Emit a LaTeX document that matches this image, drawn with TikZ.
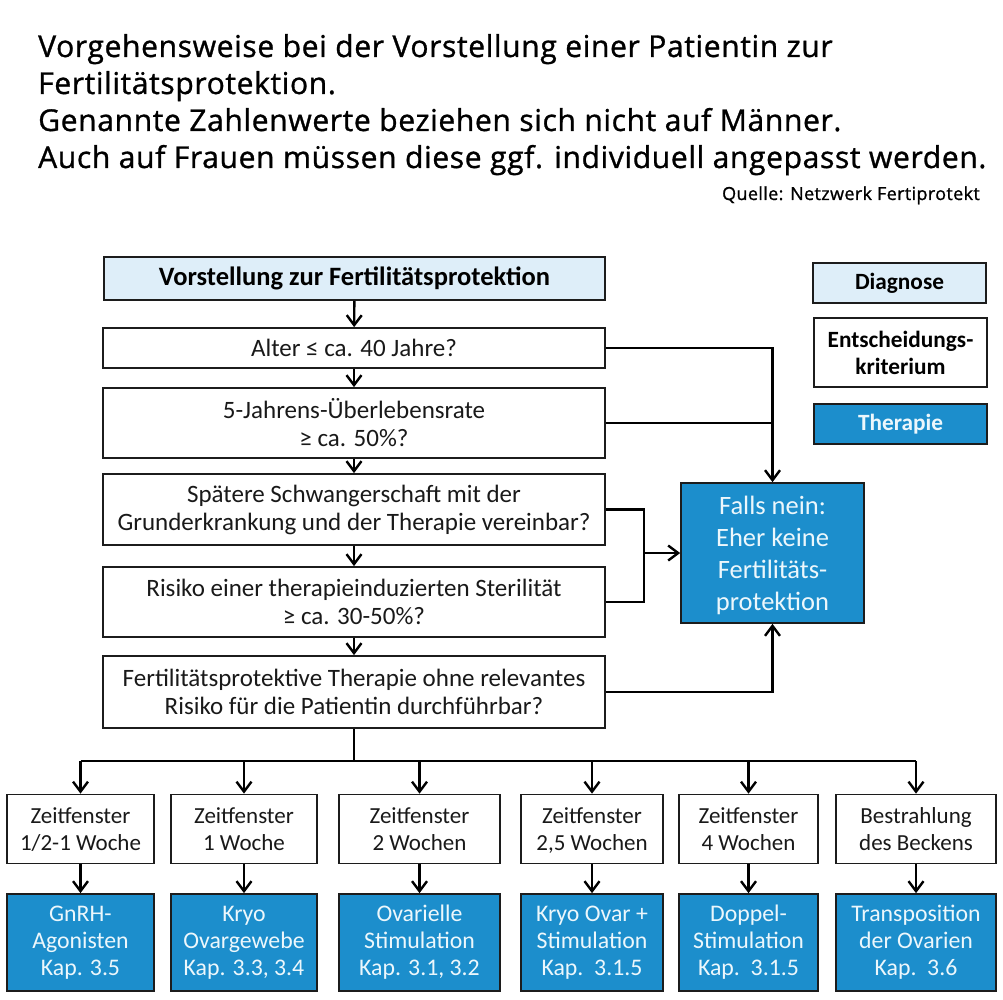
\documentclass[tikz,border=0pt]{standalone}
\usepackage{fontspec}
\setmainfont{Carlito}
\newfontfamily\headfont[FakeBold=1,LetterSpace=2]{Open Sans}
\usetikzlibrary{arrows.meta}
\definecolor{diagfill}{RGB}{222,238,249}
\definecolor{therafill}{RGB}{28,142,204}
\definecolor{theratext}{RGB}{236,247,252}
\definecolor{frame}{RGB}{28,28,28}

\begin{document}
\begin{tikzpicture}[x=1pt,y=-1pt,
  box/.style={draw=frame,line width=1.7pt,inner sep=0pt,align=center},
  diag/.style={box,fill=diagfill,font=\fontsize{26.5}{30}\selectfont\bfseries},
  crit/.style={box,fill=white,text=black!90,font=\fontsize{25}{28}\selectfont},
  thera/.style={box,fill=therafill,text=theratext},
  head/.style={anchor=base west,inner sep=0pt,font=\headfont\fontsize{30.1}{37}\selectfont},
  sig/.style={-{Straight Barb[length=10pt,width=15pt]},line width=2.4pt,draw=black},
  lin/.style={line width=2.4pt,draw=black}]
\useasboundingbox[fill=white] (0,0) rectangle (1003,1000);
% heading
\node[head] (hl1) at (38,57) {Vorgehensweise bei der Vorstellung einer Patientin zur};
\node[head] (hl2) at (38,94) {Fertilitätsprotektion.};
\node[head] (hl3) at (38,131) {Genannte Zahlenwerte beziehen sich nicht auf Männer.};
\node[head] (hl4) at (38,168) {Auch auf Frauen müssen diese ggf. individuell angepasst werden.};
\node[anchor=base east,inner sep=0pt,font=\headfont\fontsize{18}{20}\selectfont]
  (src) at (980,200) {Quelle: Netzwerk Fertiprotekt};
% legend
\node[diag,minimum width=173pt,minimum height=40pt,font=\fontsize{23.3}{27}\selectfont\bfseries]
  (lgd) at (899.5,283) {Diagnose};
\node[box,fill=white,minimum width=173pt,minimum height=69pt,font=\fontsize{23.3}{27}\selectfont\bfseries]
  (lgk) at (900.5,352.5) {Entscheidungs-\\kriterium};
\node[thera,minimum width=173pt,minimum height=40pt,font=\fontsize{23.3}{27}\selectfont\bfseries]
  (lgt) at (900.5,424) {Therapie};
% main column
\node[diag,minimum width=501pt,minimum height=43pt] (vorst) at (354.5,278.5)
  {Vorstellung zur Fertilitätsprotektion};
\node[crit,minimum width=502pt,minimum height=40pt] (alter) at (354,348)
  {Alter ≤ ca. 40 Jahre?};
\node[crit,minimum width=502pt,minimum height=70pt] (surv) at (354,423)
  {5-Jahrens-Überlebensrate\\≥ ca. 50\%?};
\node[crit,minimum width=502pt,minimum height=71pt] (preg) at (354,509.5)
  {Spätere Schwangerschaft mit der\\Grunderkrankung und der Therapie vereinbar?};
\node[crit,minimum width=502pt,minimum height=70pt] (risk) at (354,602)
  {Risiko einer therapieinduzierten Sterilität\\≥ ca. 30-50\%?};
\node[crit,minimum width=502pt,minimum height=72pt] (feas) at (354,692)
  {Fertilitätsprotektive Therapie ohne relevantes\\Risiko für die Patientin durchführbar?};
\node[thera,minimum width=183pt,minimum height=140pt,text depth=0pt,font=\fontsize{26.5}{32}\selectfont]
  (nein) at (772.5,553) {Falls nein:\\Eher keine\\Fertilitäts-\\protektion};
\draw[sig] (vorst) -- (alter);
\draw[sig] (alter) -- (surv);
\draw[sig] (surv) -- (preg);
\draw[sig] (preg) -- (risk);
\draw[sig] (risk) -- (feas);
% "nein" branches
\draw[sig] (alter.east) -| (nein.north);
\draw[lin] (surv.east) -- (surv.east -| nein.north);
\draw[lin] (preg.east) -- ++(38,0) coordinate (brk) -- (brk |- risk.east) -- (risk.east);
\draw[sig] (brk |- nein.west) -- (nein.west);
\draw[sig] (feas.east) -| (nein.south);
% therapy options
\coordinate (split) at (feas.south |- 0,761);
\foreach \n/\x/\w/\zt/\tt in {
  1/80.5/147/{Zeitfenster\\1/2-1 Woche}/{GnRH-\\Agonisten\\Kap. 3.5},
  2/244/146/{Zeitfenster\\1 Woche}/{Kryo\\Ovargewebe\\Kap. 3.3, 3.4},
  3/419.5/161/{Zeitfenster\\2 Wochen}/{Ovarielle\\Stimulation\\Kap. 3.1, 3.2},
  4/592/142/{Zeitfenster\\2,5 Wochen}/{Kryo Ovar +\\Stimulation\\Kap.~~3.1.5},
  5/748.5/139/{Zeitfenster\\4 Wochen}/{Doppel-\\Stimulation\\Kap.~~3.1.5},
  6/916/160/{Bestrahlung\\des Beckens}/{Transposition\\der Ovarien\\Kap.~~3.6}}{
  \node[crit,minimum width=\w pt,minimum height=69pt,text depth=0pt,font=\fontsize{23}{27}\selectfont]
    (z\n) at (\x,829) {\zt};
  \node[thera,minimum width=\w pt,minimum height=97pt,font=\fontsize{23.8}{27}\selectfont]
    (t\n) at (\x,942.5) {\tt};
  \draw[sig] (z\n.north |- split) -- (z\n.north);
  \draw[sig] (z\n) -- (t\n);
}
\draw[lin] (feas.south) -- (split);
\draw[lin] (z1.north |- split) -- (z6.north |- split);
\end{tikzpicture}
\end{document}
